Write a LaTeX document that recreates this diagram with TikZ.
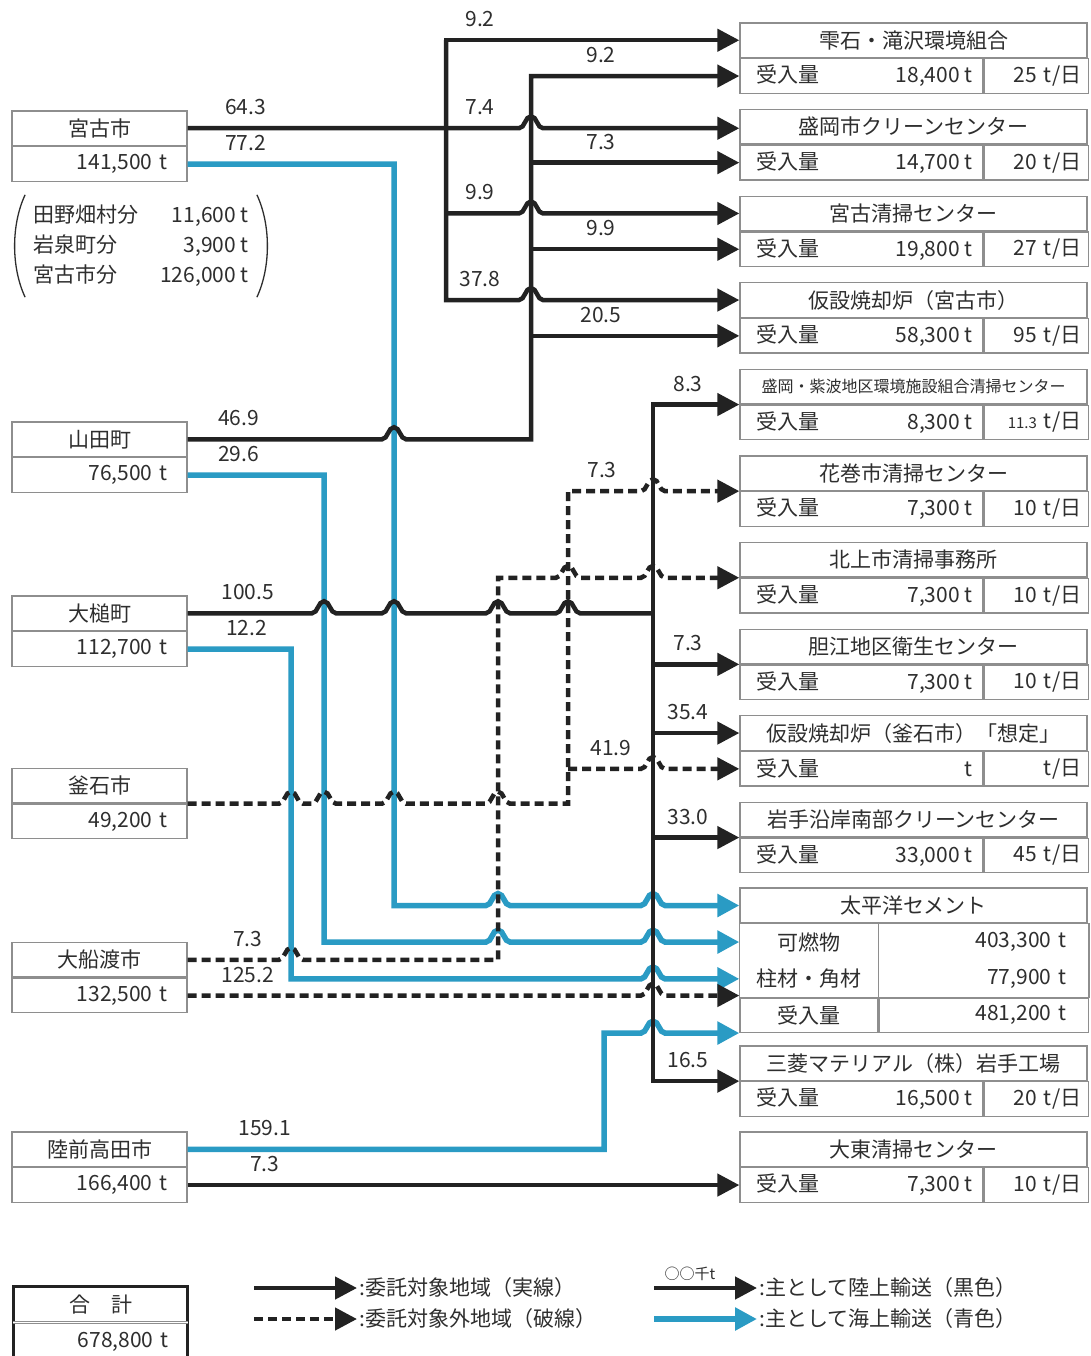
\documentclass[tikz,border=0pt]{standalone}
\usepackage{fontspec}
\setmainfont{Noto Sans CJK JP}
\usetikzlibrary{arrows.meta,positioning,calc}

\definecolor{landcol}{HTML}{222222}
\definecolor{seacol}{HTML}{2A9BC4}
\definecolor{boxgray}{HTML}{8E8E8E}
\definecolor{textcol}{HTML}{2E2E2E}

% bump of a line over a crossing one
\newcommand\hopover[1]{-- ($(#1)+(-12pt,0)$) .. controls +(6pt,0) and +(-6pt,0) .. ($(#1)+(0,12pt)$) .. controls +(6pt,0) and +(-6pt,0) .. ($(#1)+(12pt,0)$)}
\newcommand\recvamt[1]{\hbox to 222pt{\hspace{6pt}受入量\hfill #1}}

\tikzset{
  cell/.style={draw=boxgray, line width=1.3pt, inner sep=0pt, minimum height=34.5pt, text=textcol, font=\fontsize{21}{24}\selectfont},
  srcT/.style={cell, minimum width=175pt},
  srcV/.style={cell, minimum width=175pt, text width=136pt, align=right},
  dstT/.style={cell, minimum width=347pt},
  dstA/.style={cell, minimum width=243pt},
  dstD/.style={cell, minimum width=104pt, text width=90pt, align=right},
  land/.style={draw=landcol, line width=4.5pt},
  sea/.style={draw=seacol, line width=5.5pt},
  dashline/.style={land, dash pattern=on 9pt off 5pt},
  lbl/.style={above=10pt, inner sep=1pt, text=textcol, font=\fontsize{21}{24}\selectfont},
  legtxt/.style={anchor=west, inner sep=2pt, text=textcol, font=\fontsize{21}{24}\selectfont},
  paren/.style={draw=textcol, line width=1.3pt},
}

\begin{document}
\begin{tikzpicture}[x=1pt, y=-1pt, >={Triangle[length=22pt,width=22pt]}]
    \path[use as bounding box, clip] (0,0) rectangle (1091,1356);
    \fill[white] (0,0) rectangle (1091,1356);

    % Source boxes
    \node [srcT] (mykT) at (99.5,128.25) {宮古市};
    \node [srcV, below=0pt of mykT] (mykV) {141,500 t};
    \node [srcT] (yamT) at (99.5,439.25) {山田町};
    \node [srcV, below=0pt of yamT] (yamV) {76,500 t};
    \node [srcT] (otsT) at (99.5,613.25) {大槌町};
    \node [srcV, below=0pt of otsT] (otsV) {112,700 t};
    \node [srcT] (kamT) at (99.5,785.75) {釜石市};
    \node [srcV, below=0pt of kamT] (kamV) {49,200 t};
    \node [srcT] (ofuT) at (99.5,959.75) {大船渡市};
    \node [srcV, below=0pt of ofuT] (ofuV) {132,500 t};
    \node [srcT] (rikT) at (99.5,1149.25) {陸前高田市};
    \node [srcV, below=0pt of rikT] (rikV) {166,400 t};

    % Breakdown of Miyako
    \node [inner sep=0pt, text=textcol, font=\fontsize{21}{30}\selectfont] (bkdn) at (141,246)
        {\begin{tabular}{@{}l@{\hspace{22pt}}r@{}}田野畑村分 & 11,600 t\\岩泉町分 & 3,900 t\\宮古市分 & 126,000 t\end{tabular}};
    \draw [paren] ($(bkdn.north west)+(-8pt,6pt)$) .. controls +(-14pt,-30pt) and +(-14pt,30pt) .. ($(bkdn.south west)+(-8pt,-6pt)$);
    \draw [paren] ($(bkdn.north east)+(8pt,6pt)$) .. controls +(14pt,-30pt) and +(14pt,30pt) .. ($(bkdn.south east)+(8pt,-6pt)$);

    % Destination boxes
    \node [dstT] (shzT) at (913.5,40.25) {雫石・滝沢環境組合};
    \node [dstA, below right=0pt and 0pt of shzT.south west] (shzA) {\recvamt{18,400 t}};
    \node [dstD, right=0pt of shzA] (shzD) {25 t/日};
    \node [dstT] (morT) at (913.5,126.85) {盛岡市クリーンセンター};
    \node [dstA, below right=0pt and 0pt of morT.south west] (morA) {\recvamt{14,700 t}};
    \node [dstD, right=0pt of morA] (morD) {20 t/日};
    \node [dstT] (msjT) at (913.5,213.45) {宮古清掃センター};
    \node [dstA, below right=0pt and 0pt of msjT.south west] (msjA) {\recvamt{19,800 t}};
    \node [dstD, right=0pt of msjA] (msjD) {27 t/日};
    \node [dstT] (kmyT) at (913.5,300.05) {仮設焼却炉（宮古市）};
    \node [dstA, below right=0pt and 0pt of kmyT.south west] (kmyA) {\recvamt{58,300 t}};
    \node [dstD, right=0pt of kmyA] (kmyD) {95 t/日};
    \node [dstT, font=\fontsize{16}{18}\selectfont] (mshT) at (913.5,386.65) {盛岡・紫波地区環境施設組合清掃センター};
    \node [dstA, below right=0pt and 0pt of mshT.south west] (mshA) {\recvamt{8,300 t}};
    \node [dstD, right=0pt of mshA] (mshD) {{\fontsize{15}{18}\selectfont 11.3} t/日};
    \node [dstT] (hanT) at (913.5,473.25) {花巻市清掃センター};
    \node [dstA, below right=0pt and 0pt of hanT.south west] (hanA) {\recvamt{7,300 t}};
    \node [dstD, right=0pt of hanA] (hanD) {10 t/日};
    \node [dstT] (kitT) at (913.5,559.85) {北上市清掃事務所};
    \node [dstA, below right=0pt and 0pt of kitT.south west] (kitA) {\recvamt{7,300 t}};
    \node [dstD, right=0pt of kitA] (kitD) {10 t/日};
    \node [dstT] (tanT) at (913.5,646.45) {胆江地区衛生センター};
    \node [dstA, below right=0pt and 0pt of tanT.south west] (tanA) {\recvamt{7,300 t}};
    \node [dstD, right=0pt of tanA] (tanD) {10 t/日};
    \node [dstT] (kksT) at (913.5,733.05) {仮設焼却炉（釜石市）「想定」};
    \node [dstA, below right=0pt and 0pt of kksT.south west] (kksA) {\recvamt{t}};
    \node [dstD, right=0pt of kksA] (kksD) {t/日};
    \node [dstT] (iwaT) at (913.5,819.65) {岩手沿岸南部クリーンセンター};
    \node [dstA, below right=0pt and 0pt of iwaT.south west] (iwaA) {\recvamt{33,000 t}};
    \node [dstD, right=0pt of iwaA] (iwaD) {45 t/日};

    \node [dstT, minimum height=35pt] (taiT) at (913.5,905.5) {太平洋セメント};
    \node [cell, draw=none, minimum width=138pt, minimum height=35.5pt, below right=0pt and 0pt of taiT.south west] (taiK) {可燃物};
    \node [cell, draw=none, minimum width=209pt, minimum height=35.5pt, text width=165pt, align=right, right=0pt of taiK] (taiKv) {403,300 t};
    \node [cell, draw=none, minimum width=138pt, minimum height=35.5pt, below=0pt of taiK] (taiH) {柱材・角材};
    \node [cell, draw=none, minimum width=209pt, minimum height=35.5pt, text width=165pt, align=right, right=0pt of taiH] (taiHv) {77,900 t};
    \node [cell, minimum width=138pt, below=0pt of taiH] (taiU) {受入量};
    \node [cell, minimum width=209pt, text width=165pt, align=right, right=0pt of taiU] (taiUv) {481,200 t};
    \draw [boxgray, line width=1.3pt] (taiK.north west) rectangle (taiHv.south east) (taiK.north east) -- (taiH.south east);

    \node [dstT] (mitT) at (913.5,1063.25) {三菱マテリアル（株）岩手工場};
    \node [dstA, below right=0pt and 0pt of mitT.south west] (mitA) {\recvamt{16,500 t}};
    \node [dstD, right=0pt of mitA] (mitD) {20 t/日};
    \node [dstT] (daiT) at (913.5,1149.25) {大東清掃センター};
    \node [dstA, below right=0pt and 0pt of daiT.south west] (daiA) {\recvamt{7,300 t}};
    \node [dstD, right=0pt of daiA] (daiD) {10 t/日};

    % Trunk columns
    \coordinate (busA) at (446,0);
    \coordinate (busB) at (531,0);
    \coordinate (busC) at (653,0);
    \coordinate (busD) at (568,0);
    \coordinate (busE) at (498,0);
    \coordinate (seaA) at (394,0);
    \coordinate (seaB) at (324,0);
    \coordinate (seaC) at (291,0);
    \coordinate (seaD) at (604,0);

    % Sea transport
    \draw [sea,->] (mykV.east) -- ++(58,0) node[lbl] {77.2} -| (seaA |- taiT.west) \hopover{busE |- taiT.west} \hopover{busC |- taiT.west} -- (taiT.west);
    \draw [sea,->] (yamV.east) -- ++(51,0) node[lbl] {29.6} -| (seaB |- taiK.west) \hopover{busE |- taiK.west} \hopover{busC |- taiK.west} -- (taiK.west);
    \draw [sea,->] (otsV.east) -- ++(59,0) node[lbl] {12.2} -| (seaC |- taiH.west) \hopover{busC |- taiH.west} -- (taiH.west);
    \draw [sea,->] (rikT.east) -- ++(77,0) node[lbl] {159.1} -| (seaD |- taiU.south west) \hopover{busC |- taiU.south west} -- (taiU.south west);

    % Outside the commissioned area
    \draw [dashline,->] (kamT.south east) \hopover{seaC |- kamT.south} \hopover{seaB |- kamT.south} \hopover{seaA |- kamT.south} \hopover{busE |- kamT.south} -- (busD |- kamT.south) -- (busD |- hanT.south) -- ++(34,0) node[lbl] {7.3} \hopover{busC |- hanT.south} -- (hanT.south west);
    \draw [dashline,->] (busD |- kksA.west) -- ++(43,0) node[lbl] {41.9} \hopover{busC |- kksA.west} -- (kksA.west);
    \draw [dashline,->] (ofuT.east) -- ++(60,0) node[lbl] {7.3} \hopover{seaC |- ofuT.east} -- (busE |- ofuT.east) -- (busE |- kitT.south) \hopover{busD |- kitT.south} \hopover{busC |- kitT.south} -- (kitT.south west);
    \draw [dashline,->] (ofuV.east) -- ++(60,0) node[lbl] {125.2} \hopover{busC |- ofuV.east} -- (taiU.north west |- ofuV.east);

    % Land transport
    \draw [land,->] (busA |- kmyT.west) -- (busA |- shzT.west) -- ++(34,0) node[lbl] {9.2} -- (shzT.west);
    \draw [land,->] (busA |- shzT.west) -- (busA |- kmyT.west) -- ++(34,0) node[lbl] {37.8} \hopover{busB |- kmyT.west} -- (kmyT.west);
    \draw [land,->] (mykT.east) -- ++(58,0) node[lbl] {64.3} -- (busA |- mykT.east) -- ++(34,0) node[lbl] {7.4} \hopover{busB |- mykT.east} -- (morT.west |- mykT.east);
    \draw [land,->] (busA |- msjT.west) -- ++(34,0) node[lbl] {9.9} \hopover{busB |- msjT.west} -- (msjT.west);

    \draw [land,->] (yamT.east) -- ++(51,0) node[lbl] {46.9} \hopover{seaA |- yamT.east} -- (busB |- yamT.east) -- (busB |- shzA.west) -- ++(70,0) node[lbl] {9.2} -- (shzA.west);
    \draw [land,->] (busB |- morA.west) -- ++(70,0) node[lbl] {7.3} -- (morA.west);
    \draw [land,->] (busB |- msjA.west) -- ++(70,0) node[lbl] {9.9} -- (msjA.west);
    \draw [land,->] (busB |- kmyA.west) -- ++(70,0) node[lbl] {20.5} -- (kmyA.west);

    \draw [land] (otsT.east) -- ++(60,0) node[lbl] {100.5} \hopover{seaB |- otsT.east} \hopover{seaA |- otsT.east} \hopover{busE |- otsT.east} \hopover{busD |- otsT.east} -- (busC |- otsT.east);
    \draw [land,->] (busC |- mitT.south) -- (busC |- mshT.south) -- ++(35,0) node[lbl] {8.3} -- (mshT.south west);
    \draw [land,->] (busC |- mshT.south) -- (busC |- mitT.south) -- ++(35,0) node[lbl] {16.5} -- (mitT.south west);
    \draw [land,->] (busC |- tanT.south) -- ++(35,0) node[lbl] {7.3} -- (tanT.south west);
    \draw [land,->] (busC |- kksT.west) -- ++(35,0) node[lbl] {35.4} -- (kksT.west);
    \draw [land,->] (busC |- iwaT.south) -- ++(35,0) node[lbl] {33.0} -- (iwaT.south west);

    \draw [land,->] (rikV.east) -- ++(77,0) node[lbl] {7.3} -- (daiA.west |- rikV.east);

    % Total and legend
    \node [srcT, draw=none, minimum width=173pt, minimum height=35pt] (sumT) at (100.5,1304.5) {合　計};
    \node [srcV, draw=none, minimum width=173pt, minimum height=38pt, below=0pt of sumT] (sumV) {678,800 t};
    \draw [landcol, line width=2.5pt] (sumT.north west) rectangle (sumV.south east);
    \draw [boxgray, line width=0.8pt, double=white, double distance=1.6pt] (sumT.south west) -- (sumT.south east);

    \coordinate (lgA) at (254,1288);
    \coordinate (lgB) at (254,1319);
    \coordinate (lgC) at (654,1288);
    \coordinate (lgD) at (654,1319);
    \node [legtxt] (lgAt) at (357,1288) {:委託対象地域（実線）};
    \node [legtxt] (lgBt) at (357,1319) {:委託対象外地域（破線）};
    \node [legtxt] (lgCt) at (757,1288) {:主として陸上輸送（黒色）};
    \node [legtxt] (lgDt) at (757,1319) {:主として海上輸送（青色）};
    \draw [land,->] (lgA) -- (lgAt.west);
    \draw [dashline,->] (lgB) -- (lgBt.west);
    \draw [land,->] (lgC) -- ++(36,0) node[lbl, above=4pt, font=\fontsize{15}{18}\selectfont] {○○千t} -- (lgCt.west);
    \draw [sea,->] (lgD) -- (lgDt.west);
\end{tikzpicture}
\end{document}
